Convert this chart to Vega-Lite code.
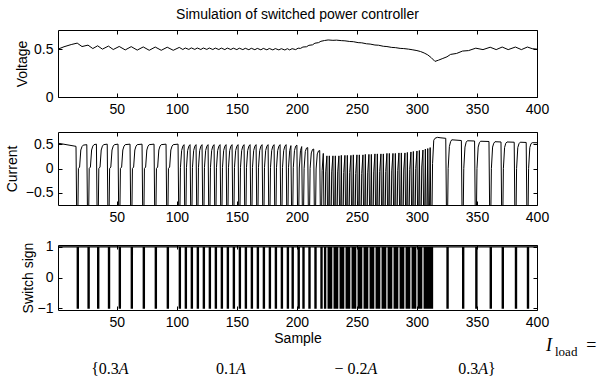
{
"$schema": "https://vega.github.io/schema/vega-lite/v6.json",
"padding": {"left": 4, "top": 7, "right": 0, "bottom": 0},
"spacing": 14,
"config": {
 "font": "Liberation Sans",
 "view": {"stroke": "black", "strokeWidth": 1},
 "axis": {"domain": false, "grid": false, "tickSize": -4, "tickColor": "black", "tickWidth": 1, "labelColor": "black", "labelFont": "Liberation Sans", "labelFontSize": 14, "labelPadding": 9, "titleFont": "Liberation Sans", "titleFontSize": 14, "titleFontWeight": "normal", "titleColor": "black", "labelFlush": false}
},
"datasets": {
"volt": [{"s":1,"v":0.5},{"s":6,"v":0.525},{"s":12,"v":0.548},{"s":17,"v":0.563},{"s":21,"v":0.527},{"s":26,"v":0.542},{"s":30,"v":0.506},{"s":34,"v":0.535},{"s":38,"v":0.5},{"s":43,"v":0.532},{"s":47,"v":0.496},{"s":52,"v":0.528},{"s":57,"v":0.492},{"s":62,"v":0.526},{"s":67,"v":0.49},{"s":72,"v":0.523},{"s":77,"v":0.488},{"s":82,"v":0.522},{"s":87,"v":0.488},{"s":92,"v":0.52},{"s":97,"v":0.488},{"s":102,"v":0.518},{"s":105,"v":0.496},{"s":107,"v":0.512},{"s":110,"v":0.497},{"s":112,"v":0.513},{"s":115,"v":0.497},{"s":117,"v":0.512},{"s":120,"v":0.496},{"s":122,"v":0.512},{"s":125,"v":0.497},{"s":127,"v":0.512},{"s":130,"v":0.496},{"s":132,"v":0.511},{"s":135,"v":0.496},{"s":137,"v":0.511},{"s":140,"v":0.495},{"s":142,"v":0.511},{"s":145,"v":0.496},{"s":147,"v":0.51},{"s":150,"v":0.495},{"s":152,"v":0.51},{"s":155,"v":0.495},{"s":157,"v":0.509},{"s":160,"v":0.494},{"s":162,"v":0.509},{"s":165,"v":0.494},{"s":167,"v":0.508},{"s":170,"v":0.493},{"s":172,"v":0.508},{"s":175,"v":0.493},{"s":177,"v":0.507},{"s":180,"v":0.492},{"s":182,"v":0.506},{"s":185,"v":0.492},{"s":187,"v":0.505},{"s":190,"v":0.491},{"s":192,"v":0.505},{"s":194,"v":0.492},{"s":196,"v":0.505},{"s":199,"v":0.495},{"s":201,"v":0.51},{"s":203,"v":0.508},{"s":205,"v":0.522},{"s":208,"v":0.525},{"s":210,"v":0.54},{"s":213,"v":0.545},{"s":215,"v":0.562},{"s":218,"v":0.568},{"s":220,"v":0.582},{"s":223,"v":0.59},{"s":226,"v":0.596},{"s":230,"v":0.592},{"s":233,"v":0.594},{"s":237,"v":0.589},{"s":240,"v":0.587},{"s":244,"v":0.58},{"s":247,"v":0.578},{"s":251,"v":0.568},{"s":254,"v":0.566},{"s":258,"v":0.556},{"s":261,"v":0.553},{"s":265,"v":0.543},{"s":268,"v":0.541},{"s":272,"v":0.53},{"s":275,"v":0.527},{"s":279,"v":0.518},{"s":282,"v":0.516},{"s":286,"v":0.508},{"s":289,"v":0.506},{"s":293,"v":0.5},{"s":296,"v":0.494},{"s":300,"v":0.485},{"s":303,"v":0.475},{"s":306,"v":0.46},{"s":309,"v":0.44},{"s":312,"v":0.41},{"s":315,"v":0.372},{"s":318,"v":0.385},{"s":321,"v":0.4},{"s":325,"v":0.42},{"s":328,"v":0.445},{"s":333,"v":0.455},{"s":338,"v":0.48},{"s":343,"v":0.485},{"s":349,"v":0.51},{"s":355,"v":0.495},{"s":361,"v":0.52},{"s":366,"v":0.495},{"s":371,"v":0.522},{"s":376,"v":0.495},{"s":382,"v":0.522},{"s":387,"v":0.495},{"s":392,"v":0.522},{"s":396,"v":0.505},{"s":400,"v":0.5}],
"cur": [{"s":1,"v":0.52},{"s":16,"v":0.455},
{"s":17,"v":-2},{"s":18,"v":0},{"s":19,"v":0.03},{"s":20,"v":0.38},{"s":21,"v":0.45},{"s":22,"v":0.48},{"s":25,"v":0.49},
{"s":26,"v":-2},{"s":27,"v":0},{"s":28,"v":0.03},{"s":29,"v":0.38},{"s":30,"v":0.46},{"s":31,"v":0.49},{"s":33,"v":0.5},
{"s":34,"v":-2},{"s":35,"v":0},{"s":36,"v":0.03},{"s":37,"v":0.38},{"s":38,"v":0.46},{"s":39,"v":0.49},{"s":42,"v":0.5},
{"s":43,"v":-2},{"s":44,"v":0},{"s":45,"v":0.03},{"s":46,"v":0.38},{"s":47,"v":0.46},{"s":48,"v":0.49},{"s":51,"v":0.5},
{"s":52,"v":-2},{"s":53,"v":0},{"s":54,"v":0.03},{"s":55,"v":0.38},{"s":56,"v":0.46},{"s":57,"v":0.49},{"s":61,"v":0.5},
{"s":62,"v":-2},{"s":63,"v":0},{"s":64,"v":0.03},{"s":65,"v":0.38},{"s":66,"v":0.46},{"s":67,"v":0.49},{"s":71,"v":0.5},
{"s":72,"v":-2},{"s":73,"v":0},{"s":74,"v":0.03},{"s":75,"v":0.38},{"s":76,"v":0.46},{"s":77,"v":0.49},{"s":81,"v":0.5},
{"s":82,"v":-2},{"s":83,"v":0},{"s":84,"v":0.03},{"s":85,"v":0.38},{"s":86,"v":0.46},{"s":87,"v":0.49},{"s":91,"v":0.5},
{"s":92,"v":-2},{"s":93,"v":0},{"s":94,"v":0.03},{"s":95,"v":0.38},{"s":96,"v":0.46},{"s":97,"v":0.49},{"s":101,"v":0.5},
{"s":102,"v":-2},{"s":103,"v":0.02},{"s":104,"v":0.37},{"s":105,"v":0.46},{"s":106,"v":0.49},
{"s":107,"v":-2},{"s":108,"v":0.02},{"s":109,"v":0.37},{"s":110,"v":0.46},{"s":111,"v":0.49},
{"s":112,"v":-2},{"s":113,"v":0.02},{"s":114,"v":0.37},{"s":115,"v":0.46},{"s":116,"v":0.49},
{"s":117,"v":-2},{"s":118,"v":0.02},{"s":119,"v":0.37},{"s":120,"v":0.46},{"s":121,"v":0.49},
{"s":122,"v":-2},{"s":123,"v":0.02},{"s":124,"v":0.37},{"s":125,"v":0.46},{"s":126,"v":0.49},
{"s":127,"v":-2},{"s":128,"v":0.02},{"s":129,"v":0.37},{"s":130,"v":0.46},{"s":131,"v":0.49},
{"s":132,"v":-2},{"s":133,"v":0.02},{"s":134,"v":0.37},{"s":135,"v":0.46},{"s":136,"v":0.49},
{"s":137,"v":-2},{"s":138,"v":0.02},{"s":139,"v":0.37},{"s":140,"v":0.46},{"s":141,"v":0.49},
{"s":142,"v":-2},{"s":143,"v":0.02},{"s":144,"v":0.37},{"s":145,"v":0.46},{"s":146,"v":0.49},
{"s":147,"v":-2},{"s":148,"v":0.02},{"s":149,"v":0.37},{"s":150,"v":0.46},{"s":151,"v":0.49},
{"s":152,"v":-2},{"s":153,"v":0.02},{"s":154,"v":0.37},{"s":155,"v":0.46},{"s":156,"v":0.49},
{"s":157,"v":-2},{"s":158,"v":0.02},{"s":159,"v":0.37},{"s":160,"v":0.46},{"s":161,"v":0.49},
{"s":162,"v":-2},{"s":163,"v":0.02},{"s":164,"v":0.37},{"s":165,"v":0.46},{"s":166,"v":0.49},
{"s":167,"v":-2},{"s":168,"v":0.02},{"s":169,"v":0.37},{"s":170,"v":0.46},{"s":171,"v":0.49},
{"s":172,"v":-2},{"s":173,"v":0.02},{"s":174,"v":0.37},{"s":175,"v":0.46},{"s":176,"v":0.49},
{"s":177,"v":-2},{"s":178,"v":0.02},{"s":179,"v":0.37},{"s":180,"v":0.46},{"s":181,"v":0.49},
{"s":182,"v":-2},{"s":183,"v":0.02},{"s":184,"v":0.37},{"s":185,"v":0.46},{"s":186,"v":0.49},
{"s":187,"v":-2},{"s":188,"v":0.02},{"s":189,"v":0.37},{"s":190,"v":0.46},{"s":191,"v":0.49},
{"s":192,"v":-2},{"s":193,"v":0.02},{"s":194,"v":0.37},{"s":195,"v":0.47},
{"s":196,"v":-2},{"s":197,"v":0.02},{"s":198,"v":0.37},{"s":199,"v":0.46},{"s":200,"v":0.48},
{"s":201,"v":-2},{"s":202,"v":0.01},{"s":203,"v":0.37},{"s":204,"v":0.45},
{"s":205,"v":-2},{"s":206,"v":0},{"s":207,"v":0.35},{"s":208,"v":0.42},{"s":209,"v":0.43},
{"s":210,"v":-2},{"s":211,"v":0},{"s":212,"v":0.32},{"s":213,"v":0.39},{"s":214,"v":0.4},
{"s":215,"v":-2},{"s":216,"v":-0.01},{"s":217,"v":0.3},{"s":218,"v":0.36},{"s":219,"v":0.37},
{"s":220,"v":-2},{"s":221,"v":-0.04},{"s":222,"v":0.31},
{"s":223,"v":-2},{"s":224,"v":-0.07},{"s":225,"v":0.26},
{"s":226,"v":-2},{"s":227,"v":0.26},
{"s":228,"v":-2},{"s":229,"v":-0.07},{"s":230,"v":0.26},
{"s":231,"v":-2},{"s":232,"v":0.26},
{"s":233,"v":-2},{"s":234,"v":-0.07},{"s":235,"v":0.26},
{"s":236,"v":-2},{"s":237,"v":0.27},
{"s":238,"v":-2},{"s":239,"v":-0.08},{"s":240,"v":0.27},
{"s":241,"v":-2},{"s":242,"v":0.27},
{"s":243,"v":-2},{"s":244,"v":-0.08},{"s":245,"v":0.27},
{"s":246,"v":-2},{"s":247,"v":0.28},
{"s":248,"v":-2},{"s":249,"v":-0.1},{"s":250,"v":0.28},
{"s":251,"v":-2},{"s":252,"v":0.28},
{"s":253,"v":-2},{"s":254,"v":-0.1},{"s":255,"v":0.28},
{"s":256,"v":-2},{"s":257,"v":0.29},
{"s":258,"v":-2},{"s":259,"v":-0.09},{"s":260,"v":0.29},
{"s":261,"v":-2},{"s":262,"v":0.29},
{"s":263,"v":-2},{"s":264,"v":-0.07},{"s":265,"v":0.3},
{"s":266,"v":-2},{"s":267,"v":0.3},
{"s":268,"v":-2},{"s":269,"v":-0.06},{"s":270,"v":0.3},
{"s":271,"v":-2},{"s":272,"v":0.3},
{"s":273,"v":-2},{"s":274,"v":-0.06},{"s":275,"v":0.31},
{"s":276,"v":-2},{"s":277,"v":0.31},
{"s":278,"v":-2},{"s":279,"v":-0.05},{"s":280,"v":0.31},
{"s":281,"v":-2},{"s":282,"v":0.31},
{"s":283,"v":-2},{"s":284,"v":-0.04},{"s":285,"v":0.32},
{"s":286,"v":-2},{"s":287,"v":0.32},
{"s":288,"v":-2},{"s":289,"v":-0.03},{"s":290,"v":0.32},
{"s":291,"v":-2},{"s":292,"v":0.33},
{"s":293,"v":-2},{"s":294,"v":-0.02},{"s":295,"v":0.34},
{"s":296,"v":-2},{"s":297,"v":0.35},
{"s":298,"v":-2},{"s":299,"v":0},{"s":300,"v":0.36},
{"s":301,"v":-2},{"s":302,"v":0.37},
{"s":303,"v":-2},{"s":304,"v":0.03},{"s":305,"v":0.38},
{"s":306,"v":-2},{"s":307,"v":0.4},
{"s":308,"v":-2},{"s":309,"v":0.41},
{"s":310,"v":-2},{"s":311,"v":0.43},
{"s":312,"v":-2},{"s":313,"v":0.1},{"s":314,"v":0.58},{"s":315,"v":0.62},{"s":317,"v":0.64},{"s":320,"v":0.63},{"s":324,"v":0.62},
{"s":325,"v":-2},{"s":326,"v":0},{"s":327,"v":0.45},{"s":328,"v":0.55},{"s":329,"v":0.59},{"s":337,"v":0.575},
{"s":338,"v":-2},{"s":339,"v":0},{"s":340,"v":0.44},{"s":341,"v":0.54},{"s":342,"v":0.57},{"s":348,"v":0.565},
{"s":349,"v":-2},{"s":350,"v":0},{"s":351,"v":0.44},{"s":352,"v":0.53},{"s":353,"v":0.56},{"s":360,"v":0.555},
{"s":361,"v":-2},{"s":362,"v":0},{"s":363,"v":0.44},{"s":364,"v":0.52},{"s":365,"v":0.55},{"s":370,"v":0.545},
{"s":371,"v":-2},{"s":372,"v":0},{"s":373,"v":0.43},{"s":374,"v":0.52},{"s":375,"v":0.545},{"s":381,"v":0.54},
{"s":382,"v":-2},{"s":383,"v":0},{"s":384,"v":0.43},{"s":385,"v":0.51},{"s":386,"v":0.54},{"s":391,"v":0.535},
{"s":392,"v":-2},{"s":393,"v":0},{"s":394,"v":0.43},{"s":395,"v":0.51},{"s":396,"v":0.53},{"s":400,"v":0.53}],
"sw": [{"s":1,"v":1},
{"s":16,"v":1},{"s":17,"v":-1},{"s":18,"v":1},
{"s":25,"v":1},{"s":26,"v":-1},{"s":27,"v":1},
{"s":33,"v":1},{"s":34,"v":-1},{"s":35,"v":1},
{"s":42,"v":1},{"s":43,"v":-1},{"s":44,"v":1},
{"s":51,"v":1},{"s":52,"v":-1},{"s":53,"v":1},
{"s":61,"v":1},{"s":62,"v":-1},{"s":63,"v":1},
{"s":71,"v":1},{"s":72,"v":-1},{"s":73,"v":1},
{"s":81,"v":1},{"s":82,"v":-1},{"s":83,"v":1},
{"s":91,"v":1},{"s":92,"v":-1},{"s":93,"v":1},
{"s":101,"v":1},{"s":102,"v":-1},{"s":103,"v":1},
{"s":106,"v":1},{"s":107,"v":-1},{"s":108,"v":1},
{"s":111,"v":1},{"s":112,"v":-1},{"s":113,"v":1},
{"s":116,"v":1},{"s":117,"v":-1},{"s":118,"v":1},
{"s":121,"v":1},{"s":122,"v":-1},{"s":123,"v":1},
{"s":126,"v":1},{"s":127,"v":-1},{"s":128,"v":1},
{"s":131,"v":1},{"s":132,"v":-1},{"s":133,"v":1},
{"s":136,"v":1},{"s":137,"v":-1},{"s":138,"v":1},
{"s":141,"v":1},{"s":142,"v":-1},{"s":143,"v":1},
{"s":146,"v":1},{"s":147,"v":-1},{"s":148,"v":1},
{"s":151,"v":1},{"s":152,"v":-1},{"s":153,"v":1},
{"s":156,"v":1},{"s":157,"v":-1},{"s":158,"v":1},
{"s":161,"v":1},{"s":162,"v":-1},{"s":163,"v":1},
{"s":166,"v":1},{"s":167,"v":-1},{"s":168,"v":1},
{"s":171,"v":1},{"s":172,"v":-1},{"s":173,"v":1},
{"s":176,"v":1},{"s":177,"v":-1},{"s":178,"v":1},
{"s":181,"v":1},{"s":182,"v":-1},{"s":183,"v":1},
{"s":186,"v":1},{"s":187,"v":-1},{"s":188,"v":1},
{"s":191,"v":1},{"s":192,"v":-1},{"s":193,"v":1},
{"s":195,"v":1},{"s":196,"v":-1},{"s":197,"v":1},
{"s":200,"v":1},{"s":201,"v":-1},{"s":202,"v":1},
{"s":204,"v":1},{"s":205,"v":-1},{"s":206,"v":1},
{"s":209,"v":1},{"s":210,"v":-1},{"s":211,"v":1},
{"s":214,"v":1},{"s":215,"v":-1},{"s":216,"v":1},
{"s":219,"v":1},{"s":220,"v":-1},{"s":221,"v":1},
{"s":222,"v":1},{"s":223,"v":-1},{"s":224,"v":1},
{"s":225,"v":1},{"s":226,"v":-1},{"s":227,"v":1},
{"s":228,"v":-1},{"s":229,"v":1},
{"s":230,"v":1},{"s":231,"v":-1},{"s":232,"v":1},
{"s":233,"v":-1},{"s":234,"v":1},
{"s":235,"v":1},{"s":236,"v":-1},{"s":237,"v":1},
{"s":238,"v":-1},{"s":239,"v":1},
{"s":240,"v":1},{"s":241,"v":-1},{"s":242,"v":1},
{"s":243,"v":-1},{"s":244,"v":1},
{"s":245,"v":1},{"s":246,"v":-1},{"s":247,"v":1},
{"s":248,"v":-1},{"s":249,"v":1},
{"s":250,"v":1},{"s":251,"v":-1},{"s":252,"v":1},
{"s":253,"v":-1},{"s":254,"v":1},
{"s":255,"v":1},{"s":256,"v":-1},{"s":257,"v":1},
{"s":258,"v":-1},{"s":259,"v":1},
{"s":260,"v":1},{"s":261,"v":-1},{"s":262,"v":1},
{"s":263,"v":-1},{"s":264,"v":1},
{"s":265,"v":1},{"s":266,"v":-1},{"s":267,"v":1},
{"s":268,"v":-1},{"s":269,"v":1},
{"s":270,"v":1},{"s":271,"v":-1},{"s":272,"v":1},
{"s":273,"v":-1},{"s":274,"v":1},
{"s":275,"v":1},{"s":276,"v":-1},{"s":277,"v":1},
{"s":278,"v":-1},{"s":279,"v":1},
{"s":280,"v":1},{"s":281,"v":-1},{"s":282,"v":1},
{"s":283,"v":-1},{"s":284,"v":1},
{"s":285,"v":1},{"s":286,"v":-1},{"s":287,"v":1},
{"s":288,"v":-1},{"s":289,"v":1},
{"s":290,"v":1},{"s":291,"v":-1},{"s":292,"v":1},
{"s":293,"v":-1},{"s":294,"v":1},
{"s":295,"v":1},{"s":296,"v":-1},{"s":297,"v":1},
{"s":298,"v":-1},{"s":299,"v":1},
{"s":300,"v":1},{"s":301,"v":-1},{"s":302,"v":1},
{"s":303,"v":-1},{"s":304,"v":1},
{"s":305,"v":1},{"s":306,"v":-1},{"s":307,"v":1},
{"s":308,"v":-1},{"s":309,"v":1},
{"s":310,"v":-1},{"s":311,"v":1},
{"s":312,"v":-1},{"s":313,"v":1},
{"s":324,"v":1},{"s":325,"v":-1},{"s":326,"v":1},
{"s":337,"v":1},{"s":338,"v":-1},{"s":339,"v":1},
{"s":348,"v":1},{"s":349,"v":-1},{"s":350,"v":1},
{"s":360,"v":1},{"s":361,"v":-1},{"s":362,"v":1},
{"s":370,"v":1},{"s":371,"v":-1},{"s":372,"v":1},
{"s":381,"v":1},{"s":382,"v":-1},{"s":383,"v":1},
{"s":391,"v":1},{"s":392,"v":-1},{"s":393,"v":1},
{"s":400,"v":1}],
"ann": [
{"s":51.7,"v":-3.0,"t":"{0.3","k":"num"},
{"s":51.7,"v":-3.0,"t":"A","k":"A"},
{"s":149.3,"v":-3.0,"t":"0.1","k":"num"},
{"s":149.3,"v":-3.0,"t":"A","k":"A"},
{"s":258.8,"v":-3.0,"t":"− 0.2","k":"num"},
{"s":258.8,"v":-3.0,"t":"A","k":"A"},
{"s":351,"v":-3.0,"t":"0.3","k":"num"},
{"s":351,"v":-3.0,"t":"A","k":"A"},
{"s":359.2,"v":-3.0,"t":"}","k":"A2"},
{"s":441,"v":-2.22,"t":"=","k":"eq"},
{"s":410,"v":-2.22,"t":"I","k":"it"},
{"s":415,"v":-2.42,"t":"load","k":"sub"}
]
},
"vconcat": [
{
 "width": 479, "height": 67,
 "title": {"text": "Simulation of switched power controller", "font": "Liberation Sans", "fontSize": 14, "fontWeight": "normal", "color": "black", "offset": 8, "anchor": "middle"},
 "data": {"name": "volt"},
 "layer": [
  {"mark": {"type": "line", "color": "black", "strokeWidth": 1, "clip": true},
   "encoding": {
    "x": {"field": "s", "type": "quantitative", "scale": {"domain": [1, 400], "nice": false, "zero": false}, "axis": {"orient": "bottom", "values": [50,100,150,200,250,300,350,400], "format": "d", "title": null}},
    "y": {"field": "v", "type": "quantitative", "scale": {"domain": [0, 0.7], "nice": false, "zero": false}, "axis": {"orient": "left", "values": [0, 0.5], "format": ".1~f", "title": "Voltage", "titlePadding": 4}}
   }},
  {"mark": {"type": "line", "opacity": 0, "clip": true},
   "encoding": {
    "x": {"field": "s", "type": "quantitative", "scale": {"domain": [1, 400], "nice": false, "zero": false}, "axis": {"orient": "top", "values": [50,100,150,200,250,300,350,400], "labels": false, "title": null}},
    "y": {"field": "v", "type": "quantitative", "scale": {"domain": [0, 0.7], "nice": false, "zero": false}, "axis": {"orient": "right", "values": [0, 0.5], "labels": false, "title": null}}
   }}
 ],
 "resolve": {"axis": {"x": "independent", "y": "independent"}}
},
{
 "width": 479, "height": 73,
 "data": {"name": "cur"},
 "layer": [
  {"mark": {"type": "line", "color": "black", "strokeWidth": 1, "clip": true},
   "encoding": {
    "x": {"field": "s", "type": "quantitative", "scale": {"domain": [1, 400], "nice": false, "zero": false}, "axis": {"orient": "bottom", "values": [50,100,150,200,250,300,350,400], "format": "d", "title": null}},
    "y": {"field": "v", "type": "quantitative", "scale": {"domain": [-0.75, 0.75], "nice": false, "zero": false}, "axis": {"orient": "left", "values": [-0.5, 0, 0.5], "format": ".1~f", "title": "Current", "titlePadding": 6}}
   }},
  {"mark": {"type": "line", "opacity": 0, "clip": true},
   "encoding": {
    "x": {"field": "s", "type": "quantitative", "scale": {"domain": [1, 400], "nice": false, "zero": false}, "axis": {"orient": "top", "values": [50,100,150,200,250,300,350,400], "labels": false, "title": null}},
    "y": {"field": "v", "type": "quantitative", "scale": {"domain": [-0.75, 0.75], "nice": false, "zero": false}, "axis": {"orient": "right", "values": [-0.5, 0, 0.5], "labels": false, "title": null}}
   }}
 ],
 "resolve": {"axis": {"x": "independent", "y": "independent"}}
},
{
 "width": 479, "height": 65,
 "layer": [
  {"data": {"name": "sw"},
   "mark": {"type": "line", "color": "black", "strokeWidth": 1.2, "clip": true, "interpolate": "step-after"},
   "encoding": {
    "x": {"field": "s", "type": "quantitative", "scale": {"domain": [1, 400], "nice": false, "zero": false}, "axis": {"orient": "bottom", "values": [50,100,150,200,250,300,350,400], "format": "d", "title": "Sample", "titlePadding": 2}},
    "y": {"field": "v", "type": "quantitative", "scale": {"domain": [-1.06, 1.06], "nice": false, "zero": false}, "axis": {"orient": "left", "values": [-1, 0, 1], "format": ".1~f", "title": "Switch sign", "titlePadding": 2}}
   }},
  {"data": {"name": "sw"},
   "mark": {"type": "line", "opacity": 0, "clip": true},
   "encoding": {
    "x": {"field": "s", "type": "quantitative", "scale": {"domain": [1, 400], "nice": false, "zero": false}, "axis": {"orient": "top", "values": [50,100,150,200,250,300,350,400], "labels": false, "title": null}},
    "y": {"field": "v", "type": "quantitative", "scale": {"domain": [-1.06, 1.06], "nice": false, "zero": false}, "axis": {"orient": "right", "values": [-1, 0, 1], "labels": false, "title": null}}
   }},
  {"data": {"name": "ann"},
   "transform": [{"filter": "datum.k === 'num'"}],
   "mark": {"type": "text", "font": "Liberation Serif", "fontSize": 16, "color": "black", "align": "right", "baseline": "middle"},
   "encoding": {
    "x": {"field": "s", "type": "quantitative", "axis": null},
    "y": {"field": "v", "type": "quantitative", "axis": null},
    "text": {"field": "t"}
   }},
  {"data": {"name": "ann"},
   "transform": [{"filter": "datum.k === 'A'"}],
   "mark": {"type": "text", "font": "Liberation Serif", "fontSize": 16, "fontStyle": "italic", "color": "black", "align": "left", "baseline": "middle"},
   "encoding": {
    "x": {"field": "s", "type": "quantitative", "axis": null},
    "y": {"field": "v", "type": "quantitative", "axis": null},
    "text": {"field": "t"}
   }},
  {"data": {"name": "ann"},
   "transform": [{"filter": "datum.k === 'A2'"}],
   "mark": {"type": "text", "font": "Liberation Serif", "fontSize": 16, "color": "black", "align": "left", "baseline": "middle"},
   "encoding": {
    "x": {"field": "s", "type": "quantitative", "axis": null},
    "y": {"field": "v", "type": "quantitative", "axis": null},
    "text": {"field": "t"}
   }},
  {"data": {"name": "ann"},
   "transform": [{"filter": "datum.k === 'eq'"}],
   "mark": {"type": "text", "font": "Liberation Serif", "fontSize": 18, "color": "black", "align": "left", "baseline": "middle"},
   "encoding": {
    "x": {"field": "s", "type": "quantitative", "axis": null},
    "y": {"field": "v", "type": "quantitative", "axis": null},
    "text": {"field": "t"}
   }},
  {"data": {"name": "ann"},
   "transform": [{"filter": "datum.k === 'it'"}],
   "mark": {"type": "text", "font": "Liberation Serif", "fontSize": 18, "fontStyle": "italic", "color": "black", "align": "center", "baseline": "middle"},
   "encoding": {
    "x": {"field": "s", "type": "quantitative", "axis": null},
    "y": {"field": "v", "type": "quantitative", "axis": null},
    "text": {"field": "t"}
   }},
  {"data": {"name": "ann"},
   "transform": [{"filter": "datum.k === 'sub'"}],
   "mark": {"type": "text", "font": "Liberation Serif", "fontSize": 13, "color": "black", "align": "left", "baseline": "middle"},
   "encoding": {
    "x": {"field": "s", "type": "quantitative", "axis": null},
    "y": {"field": "v", "type": "quantitative", "axis": null},
    "text": {"field": "t"}
   }}
 ],
 "resolve": {"axis": {"x": "independent", "y": "independent"}}
}
]
}
